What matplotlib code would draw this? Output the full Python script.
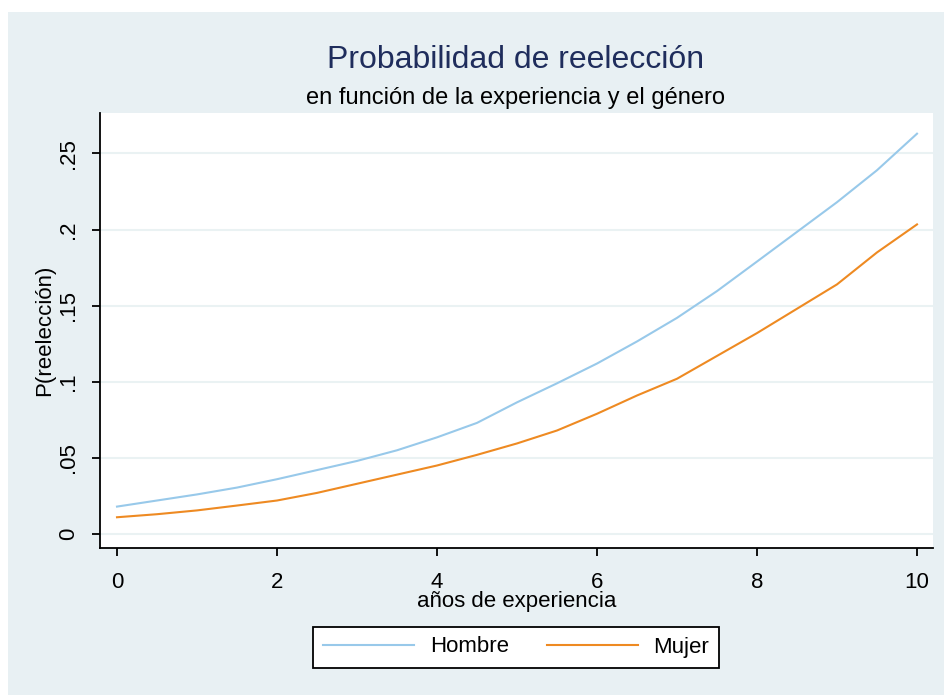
import matplotlib.pyplot as plt
from matplotlib.patches import Rectangle

# valores
anios = [0, 0.5, 1, 1.5, 2, 2.5, 3, 3.5, 4, 4.5, 5,
         5.5, 6, 6.5, 7, 7.5, 8, 8.5, 9, 9.5, 10]
hombre = [0.018, 0.022, 0.026, 0.0305, 0.036, 0.042, 0.048, 0.055, 0.0635, 0.073, 0.0865,
          0.099, 0.112, 0.1265, 0.142, 0.1596, 0.179, 0.1985, 0.218, 0.239, 0.263]
mujer = [0.011, 0.013, 0.0155, 0.0187, 0.022, 0.027, 0.033, 0.039, 0.045, 0.052, 0.0595,
         0.068, 0.079, 0.091, 0.102, 0.117, 0.132, 0.148, 0.164, 0.185, 0.2034]
yticks = [0, 0.05, 0.1, 0.15, 0.2, 0.25]
ytick_labels = ['0', '.05', '.1', '.15', '.2', '.25']
xticks = [0, 2, 4, 6, 8, 10]

plt.rcParams['font.family'] = ['Liberation Sans', 'DejaVu Sans']

bg = '#e8f0f3'
fig = plt.figure(figsize=(9.44, 6.95), dpi=100, facecolor='white')
fig.patches.append(Rectangle((8 / 944, 0), 1 - 8 / 944, 1 - 12 / 695,
                             transform=fig.transFigure, facecolor=bg,
                             edgecolor='none', zorder=-10))

ax = fig.add_axes([100 / 944, 1 - 548 / 695, 833 / 944, 435 / 695])
ax.set_facecolor('white')

ax.plot(anios, hombre, color='#98c9ea', lw=1.5, label='Hombre')
ax.plot(anios, mujer, color='#ee8a22', lw=1.5, label='Mujer')

ax.set_xlim(-0.2125, 10.2)
ax.set_ylim(-0.0092, 0.2766)
ax.set_xticks(xticks)
ax.set_xticklabels([str(t) for t in xticks])
ax.set_yticks(yticks)
ax.set_yticklabels(ytick_labels, rotation=90, va='center')
ax.grid(axis='y', color='#eaf2f3', lw=1.5)
ax.set_axisbelow(True)

for s in ['top', 'right']:
    ax.spines[s].set_visible(False)
for s in ['left', 'bottom']:
    ax.spines[s].set_linewidth(1.3)
ax.tick_params(axis='both', length=6, width=1.3, labelsize=16)
ax.tick_params(axis='x', pad=11)
ax.tick_params(axis='y', pad=9)

ax.set_xlabel('años de experiencia', fontsize=16)
ax.set_ylabel('P(reelección)', fontsize=16)
ax.xaxis.set_label_coords(0.5, -0.1)
ax.yaxis.set_label_coords(-0.054, 0.5)

fig.text(516 / 944, 1 - 60 / 695, 'Probabilidad de reelección', ha='center',
         va='center', fontsize=23, color='#1f2d5c')
fig.text(516 / 944, 1 - 98 / 695, 'en función de la experiencia y el género',
         ha='center', va='center', fontsize=17)

leg = fig.legend(loc='center', bbox_to_anchor=(516 / 944, 1 - 647 / 695), ncol=2,
                 fontsize=16, frameon=True, fancybox=False, handlelength=4.1,
                 handletextpad=0.7, columnspacing=1.7, borderpad=0.45,
                 framealpha=1)
leg.get_frame().set_edgecolor('black')
leg.get_frame().set_linewidth(1.3)

fig.savefig('out.png', dpi=100, facecolor=fig.get_facecolor())
